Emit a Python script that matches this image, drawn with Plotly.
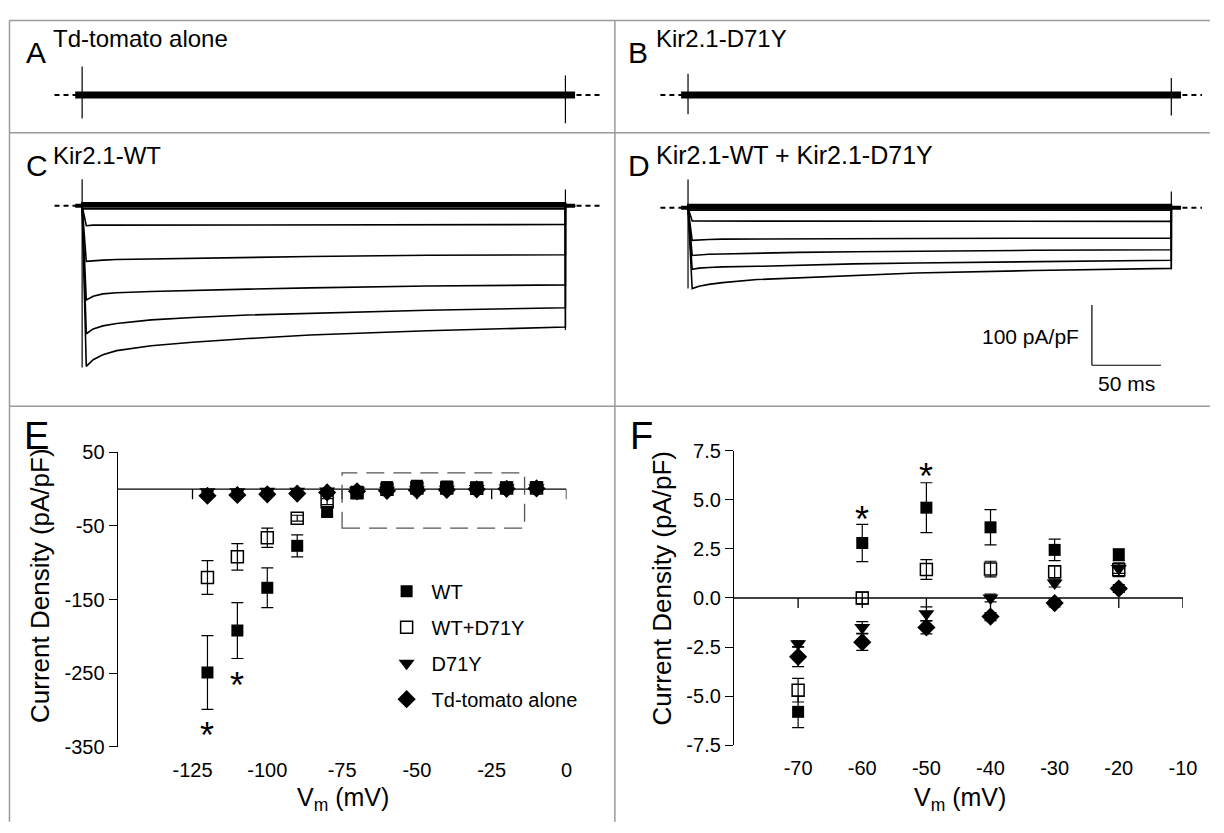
import plotly.graph_objects as go

W, H = 1224, 833          # reference picture size
OX, OY = 8, 8             # default page body margin
FW, FH = W - 2 * OX, H - 2 * OY
FONT = "Liberation Sans, Arial, Helvetica, sans-serif"

# ---------------- data: current traces (panels A-D), pA/pF vs ms ----------------
pulse_start, pulse_end = 0, 350
trace_t = [0, 3, 8, 15, 25, 50, 80, 120, 165, 250, 350]

C_traces = [
    [0, -33, -32, -32, -32, -32, -31.5, -31.5, -31, -31, -31],
    [0, -92, -91, -90, -89, -88, -87, -86, -84, -82, -81],
    [0, -156, -150, -146, -144, -142, -140, -138, -136, -133, -131],
    [0, -212, -204, -199, -195, -189, -185, -181, -178, -173, -169],
    [0, -266, -255, -247, -240, -232, -226, -220, -214, -207, -201],
]
C_flat = [5, 3, -1, -5]
C_spike_top = [44, 27]
C_spike_bot = [-268, -206]

D_traces = [
    [0, -22, -22, -22, -22, -22, -22, -22, -22, -22.5, -22.5],
    [0, -54, -53, -52.5, -52, -52, -51.5, -51.5, -51, -50.5, -50.5],
    [0, -79, -78, -77, -76.5, -75, -74, -73, -72, -70.5, -69.5],
    [0, -102, -100, -99, -98, -97, -95, -93, -91.5, -89, -87],
    [0, -134, -130, -127, -124, -119, -116, -112, -108, -104, -100.5],
]
D_flat = [5, 3, 0, -4]
D_spike_top = [47, 27]
D_spike_bot = [-134, -102]

A_spike_top = [47, 32]
A_spike_bot = [-39, -47]
B_spike_top = [35, 28]
B_spike_bot = [-32, -34]

# ---------------- data: I-V relations (panels E, F) ----------------
V = [-120, -110, -100, -90, -80, -70, -60, -50, -40, -30, -20, -10]
WT = [-249, -192, -134, -77, -31, -5.8, 2.8, 4.6, 3.6, 2.45, 2.2, 2.8]
WT_err = [50, 38, 27, 15, 5, 0.8, 0.95, 1.27, 0.9, 0.55, 0.3, 0.5]
WTD = [-120, -92, -66, -39.5, -17, -4.7, 0.0, 1.45, 1.47, 1.34, 1.44, 1.5]
WTD_err = [23, 18, 13, 4, 4, 0.6, 0.3, 0.5, 0.4, 0.3, 0.35, 0.4]
D71Y = [-3.5, -3.5, -3, -3, -2.5, -2.33, -1.5, -0.8, 0.0, 0.76, 1.5, 2.0]
D71Y_err = [0.5, 0.5, 0.5, 0.4, 0.3, 0.15, 0.3, 0.35, 0.2, 0.2, 0.25, 0.3]
TD = [-9, -8, -7, -6, -4.5, -3.0, -2.25, -1.5, -0.95, -0.26, 0.48, 1.0]
TD_err = [1, 1, 1, 1, 0.8, 0.5, 0.42, 0.33, 0.2, 0.2, 0.2, 0.3]

series_names = ["WT", "WT+D71Y", "D71Y", "Td-tomato alone"]
E_xticks = [-125, -100, -75, -50, -25, 0]
E_yticks = [50, -50, -150, -250, -350]
F_xticks = [-70, -60, -50, -40, -30, -20, -10]
F_yticks = [7.5, 5.0, 2.5, 0.0, -2.5, -5.0, -7.5]
F_vmin, F_vmax = -70, -20

starE_x, starE_y = [-120, -110], [-322, -254]
starF_x, starF_y = [-60, -50], [4.45, 6.65]

E_box_x, E_box_y = [-75, -14], [-53, 22]
scalebar_t, scalebar_I = 50, 100

# ---------------- helpers (reference pixel -> paper) ----------------
def xdom(px0, px1):
    return [(px0 - OX) / FW, (px1 - OX) / FW]

def ydom(py0, py1):
    return [1 - (py1 - OY) / FH, 1 - (py0 - OY) / FH]

def px(x):
    return (x - OX) / FW

def py(y):
    return 1 - (y - OY) / FH

PX_MS = 1.397   # px per ms
PX_PA = 0.62    # px per pA/pF

def trace_axes(px0, px1, origin, py0, py1, base):
    xa = dict(domain=xdom(px0, px1), range=[(px0 - origin) / PX_MS, (px1 - origin) / PX_MS],
              visible=False, fixedrange=True)
    ya = dict(domain=ydom(py0, py1), range=[(base - py1) / PX_PA, (base - py0) / PX_PA],
              visible=False, fixedrange=True)
    return xa, ya

fig = go.Figure()
layout_axes = {}

panels = {
    1: trace_axes(30, 618, 83, 40, 122, 86),
    2: trace_axes(640, 1216, 696, 40, 122, 86),
    3: trace_axes(30, 618, 83, 135, 400, 200),
    4: trace_axes(640, 1216, 696, 135, 400, 202),
}
for k, (xa, ya) in panels.items():
    xa["anchor"] = "y%d" % k
    ya["anchor"] = "x%d" % k
    layout_axes["xaxis%d" % k] = xa
    layout_axes["yaxis%d" % k] = ya

LINE = dict(color="black", width=1.6)
TAIL = 7

def add_baseline(k):
    fig.add_trace(go.Scatter(x=[-20, 375], y=[0, 0], mode="lines",
                             line=dict(color="black", width=2, dash="5px,4px"),
                             xaxis="x%d" % k, yaxis="y%d" % k, showlegend=False, hoverinfo="skip"))

def add_spikes(k, top, bot):
    xs = [pulse_start, pulse_start, None, pulse_end, pulse_end]
    ys = [top[0], bot[0], None, top[1], bot[1]]
    fig.add_trace(go.Scatter(x=xs, y=ys, mode="lines", line=dict(color="black", width=1.2),
                             xaxis="x%d" % k, yaxis="y%d" % k, showlegend=False, hoverinfo="skip"))

def add_band(k, width):
    fig.add_trace(go.Scatter(x=[-5, pulse_end + TAIL], y=[0, 0], mode="lines",
                             line=dict(color="black", width=width),
                             xaxis="x%d" % k, yaxis="y%d" % k, showlegend=False, hoverinfo="skip"))

def add_traces(k, traces, flats):
    for lvl in flats:
        fig.add_trace(go.Scatter(x=[-5, pulse_start, pulse_start, pulse_end, pulse_end, pulse_end + TAIL],
                                 y=[0, 0, lvl, lvl, 0, 0],
                                 mode="lines", line=dict(color="black", width=1.8),
                                 xaxis="x%d" % k, yaxis="y%d" % k, showlegend=False, hoverinfo="skip"))
    for tr in traces:
        xs = [-5] + trace_t + [pulse_end, pulse_end + TAIL]
        ys = [0] + tr + [0, 0]
        fig.add_trace(go.Scatter(x=xs, y=ys, mode="lines", line=LINE,
                                 xaxis="x%d" % k, yaxis="y%d" % k, showlegend=False, hoverinfo="skip"))

# Panel A and B: no current, noisy band
for k, top, bot in [(1, A_spike_top, A_spike_bot), (2, B_spike_top, B_spike_bot)]:
    add_baseline(k)
    add_band(k, 7)
    add_spikes(k, top, bot)

# Panel C and D
add_baseline(3)
add_band(3, 4)
add_traces(3, C_traces, C_flat)
add_spikes(3, C_spike_top, C_spike_bot)

add_baseline(4)
add_band(4, 4)
add_traces(4, D_traces, D_flat)
add_spikes(4, D_spike_top, D_spike_bot)

# ---------------- I-V panels ----------------
TICKFONT = dict(family=FONT, size=20, color="black")
def lab(v, fmt="{:g}"):
    return fmt.format(v)

layout_axes["xaxis5"] = dict(domain=xdom(119, 573), range=[-150, 0], anchor="y5",
                             showline=False, ticks="", tickvals=E_xticks,
                             ticktext=[lab(v) for v in E_xticks], showgrid=False,
                             zeroline=False, tickfont=TICKFONT, ticklabelstandoff=9, fixedrange=True)
layout_axes["yaxis5"] = dict(domain=ydom(453.3, 756), range=[-350, 50], anchor="x5",
                             showline=True, linecolor="black", linewidth=1.3, ticks="outside",
                             ticklen=8, tickwidth=1.3, tickcolor="black", tickvals=E_yticks,
                             ticktext=[lab(v) for v in E_yticks],
                             showgrid=False, zeroline=False, tickfont=TICKFONT, fixedrange=True)
layout_axes["xaxis6"] = dict(domain=xdom(742.5, 1196.7), range=[-80, -10], anchor="y6",
                             showline=False, ticks="", tickvals=F_xticks,
                             ticktext=[lab(v) for v in F_xticks], showgrid=False,
                             zeroline=False, tickfont=TICKFONT, ticklabelstandoff=9, fixedrange=True)
layout_axes["yaxis6"] = dict(domain=ydom(451.7, 754.3), range=[-7.5, 7.5], anchor="x6",
                             showline=True, linecolor="black", linewidth=1.3, ticks="outside",
                             ticklen=8, tickwidth=1.3, tickcolor="black", tickvals=F_yticks,
                             ticktext=[lab(v, "{:.1f}") for v in F_yticks],
                             showgrid=False, zeroline=False, tickfont=TICKFONT, fixedrange=True)

styles = [
    dict(symbol="square", size=12, color="black"),
    dict(symbol="square-open", size=12, color="black", line=dict(width=1.5, color="black")),
    dict(symbol="triangle-down", size=14, color="black"),
    dict(symbol="diamond", size=14, color="black"),
]
series = [(WT, WT_err), (WTD, WTD_err), (D71Y, D71Y_err), (TD, TD_err)]

for i, ((vals, errs), mk) in enumerate(zip(series, styles)):
    fig.add_trace(go.Scatter(
        x=V, y=vals, mode="markers", marker=mk, name=series_names[i],
        error_y=dict(type="data", array=errs, color="black", thickness=1.2, width=6),
        xaxis="x5", yaxis="y5", cliponaxis=False, legendgroup="g%d" % i, showlegend=True))
    fx = [v for v in V if F_vmin <= v <= F_vmax]
    fy = [y for v, y in zip(V, vals) if F_vmin <= v <= F_vmax]
    fe = [e for v, e in zip(V, errs) if F_vmin <= v <= F_vmax]
    fig.add_trace(go.Scatter(
        x=fx, y=fy, mode="markers", marker=mk, name=series_names[i],
        error_y=dict(type="data", array=fe, color="black", thickness=1.2, width=6),
        xaxis="x6", yaxis="y6", cliponaxis=False, showlegend=False))

shapes = []
# zero lines with downward tick marks
for xr, yr, rng, ticks in [("x5", "y5", [-150, 0], E_xticks), ("x6", "y6", [-80, -10], F_xticks)]:
    shapes.append(dict(type="line", xref=xr, yref=yr, x0=rng[0], x1=rng[1], y0=0, y1=0,
                       line=dict(color="black", width=1.3), layer="below"))
    for tv in ticks:
        shapes.append(dict(type="line", xref=xr, yref=yr, x0=tv, x1=tv, ysizemode="pixel",
                           yanchor=0, y0=0, y1=-10, line=dict(color="black", width=1.3), layer="below"))

# dashed box in E
shapes.append(dict(type="rect", xref="x5", yref="y5", x0=E_box_x[0], x1=E_box_x[1],
                   y0=E_box_y[0], y1=E_box_y[1], line=dict(color="#555555", width=1.3, dash="18px,9px"),
                   layer="below"))

# scale bar in D
sb_t0 = 292.5
sb_I0 = -261
shapes.append(dict(type="line", xref="x4", yref="y4", x0=sb_t0, x1=sb_t0, y0=sb_I0,
                   y1=sb_I0 + scalebar_I, line=dict(color="black", width=1.2)))
shapes.append(dict(type="line", xref="x4", yref="y4", x0=sb_t0, x1=sb_t0 + scalebar_t, y0=sb_I0,
                   y1=sb_I0, line=dict(color="black", width=1.2)))

# panel frame lines
GRAY = dict(color="#9a9a9a", width=1.5)
def pline(x0, y0, x1, y1):
    shapes.append(dict(type="line", xref="paper", yref="paper", x0=px(x0), x1=px(x1),
                       y0=py(y0), y1=py(y1), line=GRAY))
pline(9.5, 9.5, W, 9.5)
pline(9.5, 125, W, 125)
pline(9.5, 406, W, 406)
pline(9.5, 9.5, 9.5, H)
pline(622, 9.5, 622, H)

annotations = []
def ptext(x, y, text, size, xanchor="left", angle=0):
    annotations.append(dict(xref="paper", yref="paper", x=px(x), y=py(y), text=text,
                            showarrow=False, xanchor=xanchor, yanchor="middle", textangle=angle,
                            font=dict(family=FONT, size=size, color="black")))

ptext(24, 42, "A", 30)
ptext(52, 28, "Td-tomato alone", 24)
ptext(633, 42, "B", 30)
ptext(662, 28, "Kir2.1-D71Y", 24)
ptext(24, 159, "C", 30)
ptext(52, 148, "Kir2.1-WT", 24)
ptext(633, 159, "D", 30)
ptext(662, 148, "Kir2.1-WT + Kir2.1-D71Y", 25)
ptext(22, 437, "E", 38)
ptext(635, 437, "F", 38)
ptext(41, 590, "Current Density (pA/pF)", 26, xanchor="center", angle=-90)
ptext(670, 593, "Current Density (pA/pF)", 26, xanchor="center", angle=-90)
ptext(347, 810, "V<sub>m</sub> (mV)", 25, xanchor="center")
ptext(971, 810, "V<sub>m</sub> (mV)", 25, xanchor="center")

# scale bar labels (data coords in D)
annotations.append(dict(xref="x4", yref="y4", x=sb_t0 - 8, y=sb_I0 + scalebar_I / 2 - 3,
                        text="100 pA/pF", showarrow=False, xanchor="right", yanchor="middle",
                        font=dict(family=FONT, size=21, color="black")))
annotations.append(dict(xref="x4", yref="y4", x=sb_t0 + scalebar_t / 2, y=sb_I0 - 31,
                        text="50 ms", showarrow=False, xanchor="center", yanchor="middle",
                        font=dict(family=FONT, size=21, color="black")))

# significance asterisks
for xr, yr, xs, ys in [("x5", "y5", starE_x, starE_y), ("x6", "y6", starF_x, starF_y)]:
    for sx, sy in zip(xs, ys):
        annotations.append(dict(xref=xr, yref=yr, x=sx, y=sy, text="*", showarrow=False,
                                xanchor="center", yanchor="middle", yshift=-9,
                                font=dict(family=FONT, size=36, color="black")))

fig.update_layout(
    width=FW, height=FH, margin=dict(l=0, r=0, t=0, b=0),
    paper_bgcolor="white", plot_bgcolor="rgba(0,0,0,0)",
    font=dict(family=FONT, color="black"),
    shapes=shapes, annotations=annotations,
    legend=dict(x=px(386), y=py(576), xanchor="left", yanchor="top",
                font=dict(family=FONT, size=20, color="black"), tracegroupgap=7,
                itemwidth=40, bgcolor="rgba(0,0,0,0)", itemclick=False, itemdoubleclick=False),
    **layout_axes,
)

fig.write_html("out.html")
